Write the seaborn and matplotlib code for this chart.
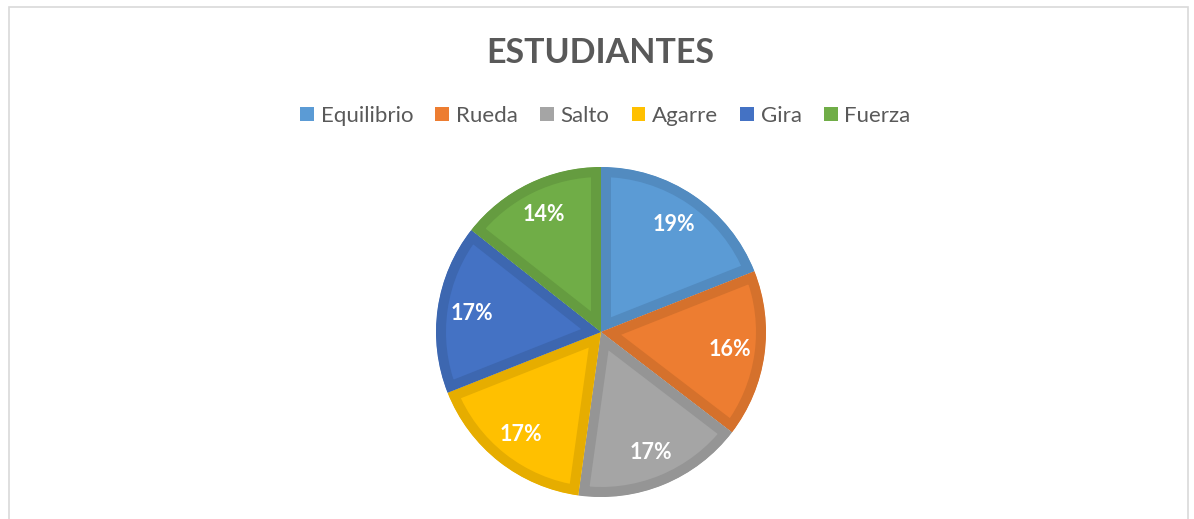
import matplotlib
matplotlib.use("Agg")
import matplotlib.pyplot as plt
import seaborn as sns
from matplotlib.patches import Rectangle, Patch

categories = ["Equilibrio", "Rueda", "Salto", "Agarre", "Gira", "Fuerza"]
values = [19.0, 16.4, 16.8, 16.8, 16.6, 14.4]
colors_hex = ["#5B9BD5", "#ED7D31", "#A5A5A5", "#FFC000", "#4472C4", "#70AD47"]
title = "ESTUDIANTES"

sns.set_theme(style="white")
plt.rcParams['font.family'] = ['Lato', 'DejaVu Sans']

palette = sns.color_palette(colors_hex)
edge_cols = [tuple(c * 0.9 for c in col) for col in palette]

W, H = 1194, 519
fig = plt.figure(figsize=(W / 100, H / 100), dpi=100)
fig.patch.set_facecolor("white")

cx, cy, r = 601, 332, 165
ax = fig.add_axes([(cx - r) / W, (H - cy - r) / H, 2 * r / W, 2 * r / H])
ax.set_facecolor("none")

wedges, texts, autotexts = ax.pie(
    values, colors=palette, startangle=90, counterclock=False,
    autopct="%.0f%%", pctdistance=0.79, radius=1.0,
    textprops=dict(color="white", fontsize=15.5, fontweight="bold"))
ax.set_xlim(-1, 1)
ax.set_ylim(-1, 1)
ax.set_aspect("equal")
ax.axis("off")
for w, ec in zip(wedges, edge_cols):
    w.set_edgecolor(ec)
    w.set_linewidth(14.4)
    w.set_clip_on(True)
    w.set_clip_path(w)

fig.text((W / 2 + 3.5) / W, 1 - 53.5 / H, title, ha="center", va="center",
         fontsize=24.5, fontweight="bold", color="#595959")

handles = [Patch(facecolor=c, edgecolor="none") for c in palette]
leg = fig.legend(handles, categories, loc="center", bbox_to_anchor=((W / 2 + 8.5) / W, 1 - 116 / H),
                 ncol=6, frameon=False, fontsize=16, handlelength=0.62, handleheight=0.62,
                 handletextpad=0.3, columnspacing=1.0, labelcolor="#595959")

border = Rectangle((8.5 / W, -0.1), (1188 - 8.5) / W, (H - 7.5) / H + 0.1,
                   transform=fig.transFigure, fill=False, edgecolor="#D9D9D9", linewidth=1.2)
fig.patches.append(border)

fig.savefig("out.png", dpi=100)
